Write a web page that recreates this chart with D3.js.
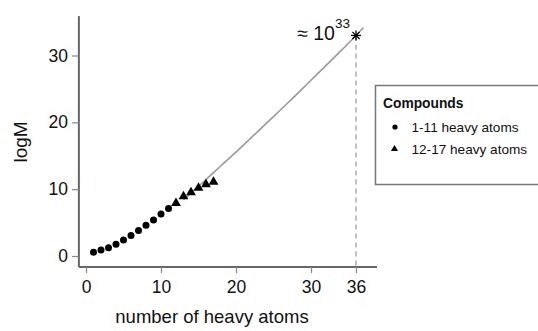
<!DOCTYPE html>
<html>
<head>
<meta charset="utf-8">
<script src="https://cdn.jsdelivr.net/npm/d3@7"></script>
<style>
  body { margin: 0; background: #fff; }
  svg { display: block; font-family: "Liberation Sans", Arial, sans-serif; }
</style>
</head>
<body>
<svg width="538" height="331"></svg>
<script>
"use strict";

// compounds 1-11 heavy atoms (circles)
var smallAtoms = [1, 2, 3, 4, 5, 6, 7, 8, 9, 10, 11],
    smallLogM = [0.55, 0.9, 1.25, 1.75, 2.4, 3.05, 3.8, 4.6, 5.4, 6.3, 7.1];

// compounds 12-17 heavy atoms (triangles)
var largeAtoms = [12, 13, 14, 15, 16, 17],
    largeLogM = [7.9, 8.9, 9.5, 10.2, 10.7, 11.1];

// extrapolated curve
var fitAtoms = [13, 15, 18, 21, 24, 27, 30, 33, 36, 37],
    fitLogM = [8.4, 10.4, 13.5, 16.6, 19.8, 23.0, 26.3, 29.6, 33.0, 34.2];

var xTicks = [0, 10, 20, 30, 36],
    yTicks = [0, 10, 20, 30];

var estimate = {atoms: 36, logM: 33, label: "33"};

var svg = d3.select("svg");

var x = d3.scaleLinear().domain([0, 36]).range([86, 356]),
    y = d3.scaleLinear().domain([0, 30]).range([256, 55.5]);

var axisColor = "#666";

// axis lines (R style, not joined to the data range)
svg.append("line")
    .attr("x1", x(-0.95)).attr("x2", x(-0.95))
    .attr("y1", y(35.9)).attr("y2", y(-1.65))
    .attr("stroke", axisColor).attr("stroke-width", 2);
svg.append("line")
    .attr("x1", x(-0.95)).attr("x2", x(38.8))
    .attr("y1", y(-1.65)).attr("y2", y(-1.65))
    .attr("stroke", axisColor).attr("stroke-width", 2);

var yAxis = svg.append("g")
    .attr("transform", "translate(" + x(-0.95) + ",0)")
    .call(d3.axisLeft(y).tickValues(yTicks).tickSize(7).tickPadding(4));
var xAxis = svg.append("g")
    .attr("transform", "translate(0," + y(-1.65) + ")")
    .call(d3.axisBottom(x).tickValues(xTicks).tickSize(6).tickPadding(8));

[yAxis, xAxis].forEach(function(g) {
  g.select(".domain").remove();
  g.selectAll(".tick line").attr("stroke", "#888").attr("stroke-width", 1.2);
  g.selectAll(".tick text")
      .attr("fill", "#111")
      .style("font-size", "17.5px")
      .style("font-family", "'Liberation Sans', Arial, sans-serif");
});

// axis titles
svg.append("text")
    .attr("transform", "translate(27,142) rotate(-90)")
    .attr("text-anchor", "middle")
    .attr("fill", "#111")
    .style("font-size", "19px")
    .text("logM");

svg.append("text")
    .attr("x", x(16.8)).attr("y", 323)
    .attr("text-anchor", "middle")
    .attr("fill", "#111")
    .style("font-size", "18.5px")
    .text("number of heavy atoms");

// dashed drop line from the estimate
svg.append("line")
    .attr("x1", x(estimate.atoms)).attr("x2", x(estimate.atoms))
    .attr("y1", y(estimate.logM)).attr("y2", y(-1.65))
    .attr("stroke", "#aaa").attr("stroke-width", 1.5)
    .attr("stroke-dasharray", "5,4");

// fitted curve
var line = d3.line()
    .x(function(d, i) { return x(fitAtoms[i]); })
    .y(function(d) { return y(d); })
    .curve(d3.curveMonotoneX);

svg.append("path")
    .datum(fitLogM)
    .attr("d", line)
    .attr("fill", "none")
    .attr("stroke", "#9a9a9a")
    .attr("stroke-width", 1.6);

// points
svg.append("g").selectAll("circle")
    .data(smallLogM)
    .enter().append("circle")
    .attr("cx", function(d, i) { return x(smallAtoms[i]); })
    .attr("cy", function(d) { return y(d); })
    .attr("r", 3.5)
    .attr("fill", "#000");

var tri = d3.symbol().type(d3.symbolTriangle).size(42);

svg.append("g").selectAll("path")
    .data(largeLogM)
    .enter().append("path")
    .attr("d", tri)
    .attr("transform", function(d, i) {
      return "translate(" + x(largeAtoms[i]) + "," + y(d) + ")";
    })
    .attr("fill", "#000");

// asterisk marker
var star = svg.append("g")
    .attr("transform", "translate(" + x(estimate.atoms) + "," + y(estimate.logM) + ")")
    .attr("stroke", "#000").attr("stroke-width", 1.3);
star.append("line").attr("x1", -5).attr("x2", 5).attr("y1", 0).attr("y2", 0);
star.append("line").attr("x1", 0).attr("x2", 0).attr("y1", -5).attr("y2", 5);
star.append("line").attr("x1", -3.6).attr("x2", 3.6).attr("y1", -3.6).attr("y2", 3.6);
star.append("line").attr("x1", -3.6).attr("x2", 3.6).attr("y1", 3.6).attr("y2", -3.6);

// "≈ 10^33" label
var approx = svg.append("text")
    .attr("x", x(estimate.atoms) - 6).attr("y", 39.5)
    .attr("text-anchor", "end")
    .attr("fill", "#111")
    .style("font-size", "19.5px");
approx.append("tspan").text("\u2248 10");
approx.append("tspan")
    .attr("dy", -12)
    .style("font-size", "13.5px")
    .text(estimate.label);

// legend
var legend = svg.append("g");
legend.append("rect")
    .attr("x", 375.5).attr("y", 85.5)
    .attr("width", 180).attr("height", 99)
    .attr("fill", "#fff")
    .attr("stroke", "#777").attr("stroke-width", 1.5);
legend.append("text")
    .attr("x", 383).attr("y", 107.5)
    .attr("fill", "#111")
    .style("font-size", "13.8px")
    .style("font-weight", "bold")
    .text("Compounds");

var legendItems = ["1-11 heavy atoms", "12-17 heavy atoms"];
legend.append("circle")
    .attr("cx", 395).attr("cy", 127)
    .attr("r", 2.6).attr("fill", "#000");
legend.append("path")
    .attr("d", d3.symbol().type(d3.symbolTriangle).size(22))
    .attr("transform", "translate(394.5,149)")
    .attr("fill", "#000");
legend.selectAll("text.item")
    .data(legendItems)
    .enter().append("text")
    .attr("class", "item")
    .attr("x", 411.5)
    .attr("y", function(d, i) { return 131.7 + i * 21.8; })
    .attr("fill", "#111")
    .style("font-size", "13.6px")
    .text(function(d) { return d; });
</script>
</body>
</html>
